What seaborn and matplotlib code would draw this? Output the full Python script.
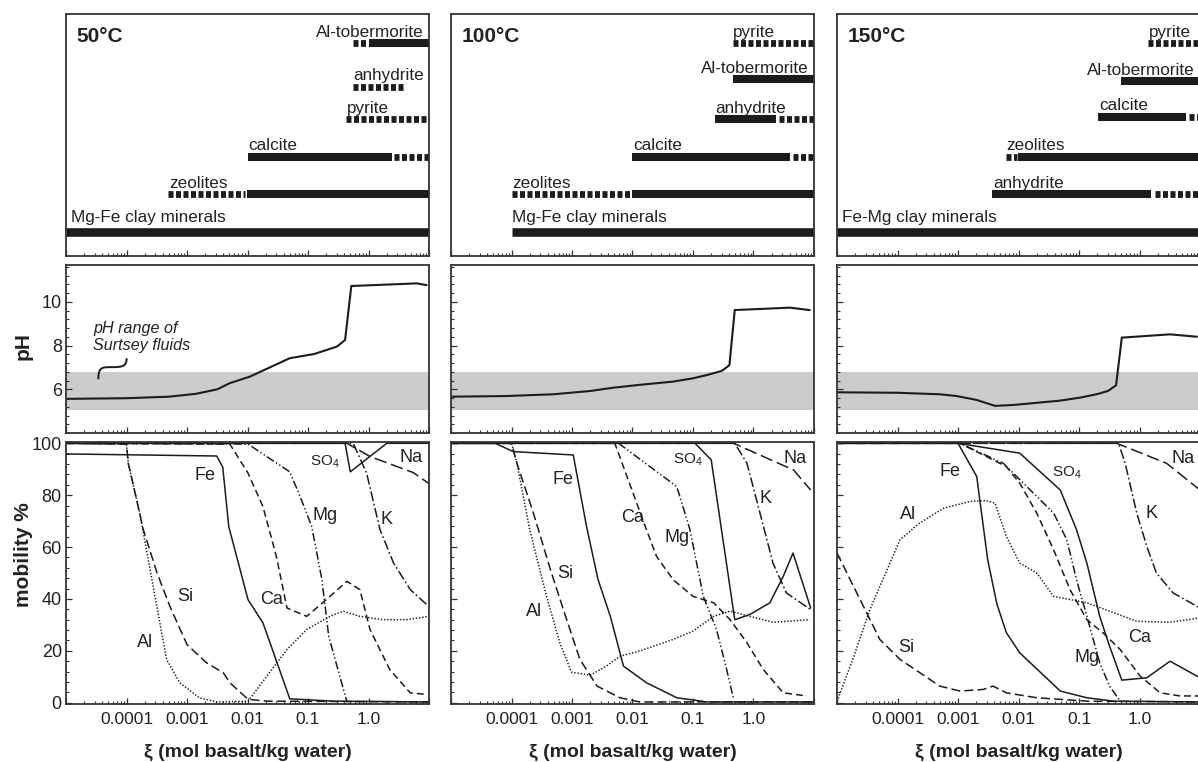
import numpy as np
import pandas as pd
import matplotlib
matplotlib.use("Agg")
import matplotlib.pyplot as plt
import seaborn as sns
from matplotlib.ticker import LogLocator, NullFormatter, MultipleLocator, NullLocator
from matplotlib.path import Path
from matplotlib.patches import PathPatch

# ------------------------------------------------------------------ data
TEMPS = ["50°C", "100°C", "150°C"]
XI_MAJOR = [1e-5, 1e-4, 1e-3, 1e-2, 1e-1, 1.0, 10.0]
XI_LABELS = ["", "0.0001", "0.001", "0.01", "0.1", "1.0", ""]

# mineral stability ranges (xi), solid = stable, dashed = minor/intermittent
MIN50_NAMES = ["Al-tobermorite", "anhydrite", "pyrite", "calcite", "zeolites", "Mg-Fe clay minerals"]
MIN50_ROWS = [0, 1.15, 2, 3, 4, 5]
MIN50_SOLID = [(1.03, 10), None, None, (0.01, 2.4), (0.0098, 10), (1e-5, 10)]
MIN50_DASHED = [(0.55, 0.91), (0.55, 4.0), (0.43, 10), (2.6, 10), (4.9e-4, 9.1e-3), None]

MIN100_NAMES = ["pyrite", "Al-tobermorite", "anhydrite", "calcite", "zeolites", "Mg-Fe clay minerals"]
MIN100_ROWS = [0, 0.95, 2, 3, 4, 5]
MIN100_SOLID = [None, (0.45, 10), (0.23, 2.36), (0.01, 4.0), (0.0098, 10), (1e-4, 10)]
MIN100_DASHED = [(0.45, 10), None, (2.6, 10), (4.5, 10), (1e-4, 9.5e-3), None]

MIN150_NAMES = ["pyrite", "Al-tobermorite", "calcite", "zeolites", "anhydrite", "Fe-Mg clay minerals"]
MIN150_ROWS = [0, 1, 1.94, 3, 4, 5]
MIN150_SOLID = [None, (0.5, 10), (0.21, 5.9), (0.0098, 10), (3.7e-3, 1.53), (1e-5, 10)]
MIN150_DASHED = [(1.4, 10), None, (6.6, 10), (6.2e-3, 9.3e-3), (1.8, 10), None]

# pH of the fluid
PH_BAND = (5.05, 6.78)
PH50_XI = [1e-5, 1e-4, 5e-4, 1.4e-3, 3.2e-3, 5e-3, 0.011, 0.05, 0.126, 0.3, 0.41, 0.52, 6.3, 9.1]
PH50 = [5.56, 5.59, 5.66, 5.79, 6.0, 6.27, 6.58, 7.42, 7.61, 7.95, 8.25, 10.72, 10.84, 10.76]
PH100_XI = [1e-5, 8.3e-5, 4.9e-4, 2e-3, 4.8e-3, 0.013, 0.047, 0.1, 0.17, 0.3, 0.4, 0.49, 4.0, 8.5]
PH100 = [5.66, 5.69, 5.77, 5.92, 6.07, 6.20, 6.35, 6.50, 6.65, 6.84, 7.10, 9.62, 9.73, 9.62]
PH150_XI = [1e-5, 9.8e-5, 5e-4, 9.5e-4, 2.04e-3, 4.1e-3, 8.1e-3, 0.049, 0.105, 0.195, 0.3, 0.41, 0.51, 3.2, 8.9]
PH150 = [5.86, 5.84, 5.77, 5.69, 5.51, 5.24, 5.28, 5.48, 5.62, 5.77, 5.92, 6.18, 8.36, 8.51, 8.40]

# element mobility (%) ---- 50 °C
FE50_XI = [1e-5, 3.1e-3, 3.9e-3, 4.9e-3, 0.0102, 0.018, 0.05, 0.26, 10]
FE50 = [95.9, 95.1, 90.8, 67.9, 39.7, 30.8, 1.5, 0.6, 0.3]
SI50_XI = [1e-5, 1e-4, 1.07e-4, 1.9e-4, 3.2e-4, 5.2e-4, 1e-3, 2.1e-3, 4.0e-3, 5.1e-3, 0.0102, 0.021, 10]
SI50 = [100, 99.7, 92.3, 66.7, 50, 37.2, 22.4, 15.4, 11.5, 7.7, 1.3, 0.6, 0.3]
AL50_XI = [1e-5, 1e-4, 1.07e-4, 1.66e-4, 2.75e-4, 4.6e-4, 7.6e-4, 1.6e-3, 3.1e-3, 0.0102, 0.021, 0.045, 0.095, 0.23, 0.38, 0.72, 1.74, 4.3, 10]
AL50 = [100, 99.7, 92.3, 73, 45, 16.7, 7.7, 1.9, 0.3, 0.6, 10.3, 20.5, 28.2, 33.3, 35.3, 33.3, 32, 32, 33.3]
CA50_XI = [1e-5, 5.1e-3, 0.0102, 0.018, 0.030, 0.045, 0.095, 0.20, 0.44, 0.72, 1.06, 2.24, 4.9, 9.1]
CA50 = [100, 99.7, 88.5, 75.6, 56.4, 36.5, 33.3, 39.7, 46.8, 43.6, 28.2, 12.8, 3.8, 3.2]
MG50_XI = [1e-5, 0.0102, 0.05, 0.074, 0.115, 0.17, 0.22, 0.44]
MG50 = [100, 99.7, 89, 79.5, 68, 47.4, 25.6, 0.3]
SO450_XI = [1e-5, 0.41, 0.5, 2.0, 10]
SO450 = [100, 100, 89, 100, 100]
NA50_XI = [1e-5, 0.44, 1.06, 5.5, 9.8]
NA50 = [100, 100, 94.9, 88.7, 84.6]
K50_XI = [1e-5, 0.56, 0.93, 1.55, 2.6, 4.9, 9.8]
K50 = [100, 100, 88.5, 66.7, 53.8, 43.6, 37.2]

# ---- 100 °C
FE100_XI = [1e-5, 5.4e-5, 1.07e-4, 1.05e-3, 1.74e-3, 2.7e-3, 4.3e-3, 7.1e-3, 0.017, 0.054, 0.17, 10]
FE100 = [100, 100, 96.8, 95.5, 67.9, 47.4, 33.3, 14.1, 7.7, 1.9, 0.3, 0.3]
SI100_XI = [1e-5, 1e-4, 1.23e-4, 2.3e-4, 4.4e-4, 7.2e-4, 1.35e-3, 2.6e-3, 6.2e-3, 0.013, 10]
SI100 = [100, 100, 92.3, 73.1, 51.3, 35.9, 16.7, 6.4, 1.9, 0.3, 0.3]
AL100_XI = [1e-5, 1e-4, 1.23e-4, 2.0e-4, 3.8e-4, 6.3e-4, 9.8e-4, 2.0e-3, 3.7e-3, 6.2e-3, 0.013, 0.047, 0.10, 0.22, 0.41, 0.87, 2.1, 8.5]
AL100 = [100, 100, 92.3, 66.7, 41, 23.1, 11.8, 10.6, 14.1, 17.9, 19.9, 24.4, 27.6, 33.3, 35.3, 33.3, 31, 32]
CA100_XI = [1e-5, 5.1e-3, 9.8e-3, 0.017, 0.025, 0.047, 0.10, 0.22, 0.41, 0.78, 1.45, 3.1, 7.6]
CA100 = [100, 100, 82, 66.7, 56.4, 47.4, 41, 38.5, 32, 23.1, 12.8, 3.8, 2.6]
MG100_XI = [1e-5, 5.9e-3, 0.054, 0.089, 0.148, 0.245, 0.36, 0.47]
MG100 = [100, 100, 83.3, 66.7, 41, 28.2, 12.8, 1.3]
SO4100_XI = [1e-5, 0.108, 0.20, 0.49, 0.87, 1.86, 3.1, 4.5, 8.8]
SO4100 = [100, 100, 93.6, 32, 34, 38.5, 48.7, 57.7, 36.5]
NA100_XI = [1e-5, 0.47, 4.6, 8.8]
NA100 = [100, 100, 89.7, 82]
K100_XI = [1e-5, 0.49, 0.78, 1.28, 2.1, 3.5, 8.8]
K100 = [100, 100, 92.3, 73.1, 53.8, 42.3, 35.9]

# ---- 150 °C
FE150_XI = [1e-5, 1e-3, 2.04e-3, 3.1e-3, 4.4e-3, 6.3e-3, 0.0105, 0.049, 0.135, 0.37, 10]
FE150 = [100, 100, 87.2, 55, 38, 27, 19.2, 4.5, 1.9, 0.6, 0.3]
SI150_XI = [1e-5, 5.1e-5, 1.1e-4, 5.0e-4, 1.07e-3, 2.6e-3, 3.8e-3, 6.3e-3, 0.02, 0.135, 10]
SI150 = [57.7, 24.4, 16.7, 6.4, 4.5, 5.1, 6.4, 3.8, 1.9, 0.6, 0.3]
AL150_XI = [1e-5, 1.9e-5, 3.5e-5, 1.1e-4, 2.3e-4, 5.8e-4, 1.6e-3, 2.95e-3, 4.1e-3, 6.3e-3, 0.0105, 0.02, 0.038, 0.135, 0.32, 0.9, 3.2, 10]
AL150 = [0.5, 17.9, 35.9, 62.8, 69.2, 75, 77.6, 77.9, 76.9, 64.1, 53.8, 50, 41, 38.5, 35.3, 31.4, 31, 32.7]
CA150_XI = [1e-5, 1.07e-3, 2.95e-3, 6.3e-3, 0.0105, 0.02, 0.038, 0.071, 0.135, 0.25, 0.48, 1.02, 2.2, 4.7, 10]
CA150 = [100, 100, 94.9, 91, 84.6, 73.1, 59, 43.6, 32, 26.9, 20.5, 10.3, 3.8, 2.6, 2.6]
MG150_XI = [1e-5, 1.07e-3, 5.6e-3, 0.038, 0.063, 0.091, 0.135, 0.22, 0.32, 0.48]
MG150 = [100, 100, 92.3, 73.1, 62.8, 47.4, 33.3, 15.4, 6.4, 0.6]
SO4150_XI = [1e-5, 1e-3, 0.0105, 0.049, 0.091, 0.135, 0.22, 0.32, 0.51, 1.32, 3.2, 10]
SO4150 = [100, 100, 96.2, 82, 66.7, 53.8, 33.3, 21.8, 8.7, 9.6, 16, 9.6]
NA150_XI = [1e-5, 0.42, 2.8, 10]
NA150 = [100, 100, 92.3, 82]
K150_XI = [1e-5, 0.45, 0.58, 0.9, 1.32, 1.9, 3.6, 10]
K150 = [100, 100, 92.3, 73.1, 60.3, 50, 42.3, 36.5]

ELEMENTS = ["Fe", "Si", "Al", "Ca", "Mg", "SO4", "Na", "K"]
ELEMENT_TEXT = ["Fe", "Si", "Al", "Ca", "Mg", "SO$_4$", "Na", "K"]
LBL50_XI = [2.0e-3, 9.3e-4, 2.0e-4, 0.025, 0.19, 0.19, 5.0, 2.0]
LBL50_Y = [87.6, 41, 23.3, 39.7, 72, 92.7, 94.6, 70.5]
LBL100_XI = [7.1e-4, 7.6e-4, 2.4e-4, 0.0102, 0.054, 0.083, 4.9, 1.55]
LBL100_Y = [85.9, 50, 35.3, 71.5, 63.8, 93.8, 94.2, 78.8]
LBL150_XI = [7.4e-4, 1.38e-4, 1.5e-4, 1.02, 0.135, 0.063, 5.2, 1.6]
LBL150_Y = [89.1, 21.2, 72.4, 25, 17.3, 88.5, 94.2, 73.1]

MOB50 = {"Fe": (FE50_XI, FE50), "Si": (SI50_XI, SI50), "Al": (AL50_XI, AL50), "Ca": (CA50_XI, CA50),
         "Mg": (MG50_XI, MG50), "SO4": (SO450_XI, SO450), "Na": (NA50_XI, NA50), "K": (K50_XI, K50)}
MOB100 = {"Fe": (FE100_XI, FE100), "Si": (SI100_XI, SI100), "Al": (AL100_XI, AL100), "Ca": (CA100_XI, CA100),
          "Mg": (MG100_XI, MG100), "SO4": (SO4100_XI, SO4100), "Na": (NA100_XI, NA100), "K": (K100_XI, K100)}
MOB150 = {"Fe": (FE150_XI, FE150), "Si": (SI150_XI, SI150), "Al": (AL150_XI, AL150), "Ca": (CA150_XI, CA150),
          "Mg": (MG150_XI, MG150), "SO4": (SO4150_XI, SO4150), "Na": (NA150_XI, NA150), "K": (K150_XI, K150)}

# ------------------------------------------------------------------ style
sns.set_theme(style="ticks")
plt.rcParams.update({
    "font.family": ["Liberation Sans", "DejaVu Sans"],
    "mathtext.default": "regular",
    "lines.scale_dashes": False,
    "axes.edgecolor": "#333333",
    "axes.linewidth": 1.3,
    "xtick.direction": "in",
    "ytick.direction": "in",
    "xtick.color": "#333333",
    "ytick.color": "#333333",
    "xtick.labelcolor": "#222222",
    "ytick.labelcolor": "#222222",
    "xtick.major.size": 4.0,
    "xtick.minor.size": 2.2,
    "ytick.major.size": 4.0,
    "ytick.minor.size": 2.2,
    "xtick.major.width": 0.9,
    "xtick.minor.width": 0.8,
    "ytick.major.width": 0.9,
    "ytick.minor.width": 0.8,
    "text.color": "#222222",
    "axes.labelcolor": "#222222",
})

INK = "#1c1c1c"
DASHES = {"Fe": "", "SO4": "", "Si": (6.5, 3.0), "Ca": (5.0, 2.8), "Na": (9.0, 3.5),
          "Al": (1.0, 1.3), "Mg": (6.0, 1.8, 1.0, 1.8, 1.0, 1.8), "K": (7.0, 2.0, 1.2, 2.0)}
PALETTE = {el: INK for el in ELEMENTS}

W, H = 1198, 762
fig = plt.figure(figsize=(W / 100, H / 100), dpi=100)
COL_X0 = [66, 451, 837]
COL_W = 363
ROW_TOP = (14, 256)
ROW_PH = (265, 433)
ROW_MOB = (442, 704)


def add_ax(x0, rows):
    top, bot = rows
    return fig.add_axes([x0 / W, 1 - bot / H, COL_W / W, (bot - top) / H])


def log_xaxis(ax):
    ax.set_xscale("log")
    ax.set_xlim(1e-5, 10)
    ax.set_xticks(XI_MAJOR)
    ax.xaxis.set_minor_locator(LogLocator(base=10, subs=np.arange(2, 10), numticks=20))
    ax.xaxis.set_minor_formatter(NullFormatter())
    ax.tick_params(axis="x", which="both", top=False, bottom=True)


minerals = [
    (MIN50_NAMES, MIN50_ROWS, MIN50_SOLID, MIN50_DASHED),
    (MIN100_NAMES, MIN100_ROWS, MIN100_SOLID, MIN100_DASHED),
    (MIN150_NAMES, MIN150_ROWS, MIN150_SOLID, MIN150_DASHED),
]
ph_data = [(PH50_XI, PH50), (PH100_XI, PH100), (PH150_XI, PH150)]
mob_data = [MOB50, MOB100, MOB150]
lbl_data = [(LBL50_XI, LBL50_Y), (LBL100_XI, LBL100_Y), (LBL150_XI, LBL150_Y)]

for i, x0 in enumerate(COL_X0):
    # ---------------- mineral panel
    ax = add_ax(x0, ROW_TOP)
    log_xaxis(ax)
    ax.set_xticklabels([])
    ax.set_ylim(5.627, -0.775)
    ax.yaxis.set_major_locator(NullLocator())
    names, rows, solid, dashed = minerals[i]
    for name, row, s, d in zip(names, rows, solid, dashed):
        clay = "clay" in name
        if s is not None:
            ax.plot(list(s), [row, row], color=INK, lw=6.2 if clay else 5.8,
                    solid_capstyle="butt")
        if d is not None:
            ax.plot(list(d), [row, row], color=INK, lw=4.9, dashes=(3.6, 1.8),
                    dash_capstyle="butt")
        starts = [seg[0] for seg in (s, d) if seg is not None]
        if name == "Al-tobermorite":
            ax.annotate(name, xy=(1, row), xycoords=("axes fraction", "data"),
                        xytext=(-4, 4.6), textcoords="offset points",
                        ha="right", va="baseline", fontsize=12.3)
        else:
            x_lab = min(starts)
            dx = 3.5 if x_lab <= 1.01e-5 else 0.5
            ax.annotate(name, xy=(x_lab, row), xytext=(dx, 7.5 if clay else 4.6),
                        textcoords="offset points", ha="left", va="baseline",
                        fontsize=12.3)
    ax.text(0.03, 0.905, TEMPS[i], transform=ax.transAxes, fontsize=15,
            fontweight="bold", va="center", ha="left")

    # ---------------- pH panel
    ax = add_ax(x0, ROW_PH)
    log_xaxis(ax)
    ax.set_xticklabels([])
    ax.set_ylim(4.0, 11.68)
    ax.set_yticks([6, 8, 10])
    ax.yaxis.set_minor_locator(MultipleLocator(0.4))
    ax.axhspan(PH_BAND[0], PH_BAND[1], color="#cbcccd", lw=0, zorder=0)
    pxi, pph = ph_data[i]
    sns.lineplot(x=pxi, y=pph, ax=ax, color=INK, lw=1.5, sort=False, estimator=None)
    if i == 0:
        ax.tick_params(axis="y", labelsize=13, pad=3)
        ax.set_ylabel("pH", fontsize=15, fontweight="bold", va="center")
        ax.yaxis.set_label_coords(-0.118, 0.52)
        ax.text(0.075, 0.573, "pH range of\nSurtsey fluids", transform=ax.transAxes,
                fontsize=11.6, fontstyle="italic", va="center", ha="left",
                linespacing=1.15)
        verts = [(0.089, 0.32), (0.089, 0.395), (0.10, 0.392), (0.128, 0.392),
                 (0.158, 0.392), (0.167, 0.40), (0.167, 0.445)]
        codes = [Path.MOVETO] + [Path.CURVE4] * 6
        ax.add_patch(PathPatch(Path(verts, codes), transform=ax.transAxes,
                               fill=False, lw=1.4, edgecolor=INK))
    else:
        ax.set_yticklabels([])
        ax.set_ylabel("")

    # ---------------- mobility panel
    ax = add_ax(x0, ROW_MOB)
    frames = []
    for el in ELEMENTS:
        xs, ys = mob_data[i][el]
        frames.append(pd.DataFrame({"xi": xs, "mob": ys, "el": el}))
    df = pd.concat(frames, ignore_index=True)
    sns.lineplot(data=df, x="xi", y="mob", hue="el", style="el", palette=PALETTE,
                 dashes=DASHES, sort=False, estimator=None, lw=1.1, ax=ax,
                 legend=False)
    log_xaxis(ax)
    ax.set_xticklabels(XI_LABELS)
    ax.tick_params(axis="x", labelsize=12.5, pad=6)
    ax.set_ylim(-0.5, 100.5)
    ax.set_yticks([0, 20, 40, 60, 80, 100])
    ax.yaxis.set_minor_locator(MultipleLocator(4))
    lx, ly = lbl_data[i]
    for t, xx, yy in zip(ELEMENT_TEXT, lx, ly):
        ax.text(xx, yy, t, fontsize=11 if "SO" in t else 13, ha="center", va="center")
    ax.set_xlabel("ξ (mol basalt/kg water)", fontsize=14, fontweight="bold", labelpad=12)
    if i == 0:
        ax.tick_params(axis="y", labelsize=13, pad=3)
        ax.set_ylabel("mobility %", fontsize=15, fontweight="bold", va="center")
        ax.yaxis.set_label_coords(-0.118, 0.57)
    else:
        ax.set_yticklabels([])
        ax.set_ylabel("")

fig.savefig("out.png", dpi=100)
